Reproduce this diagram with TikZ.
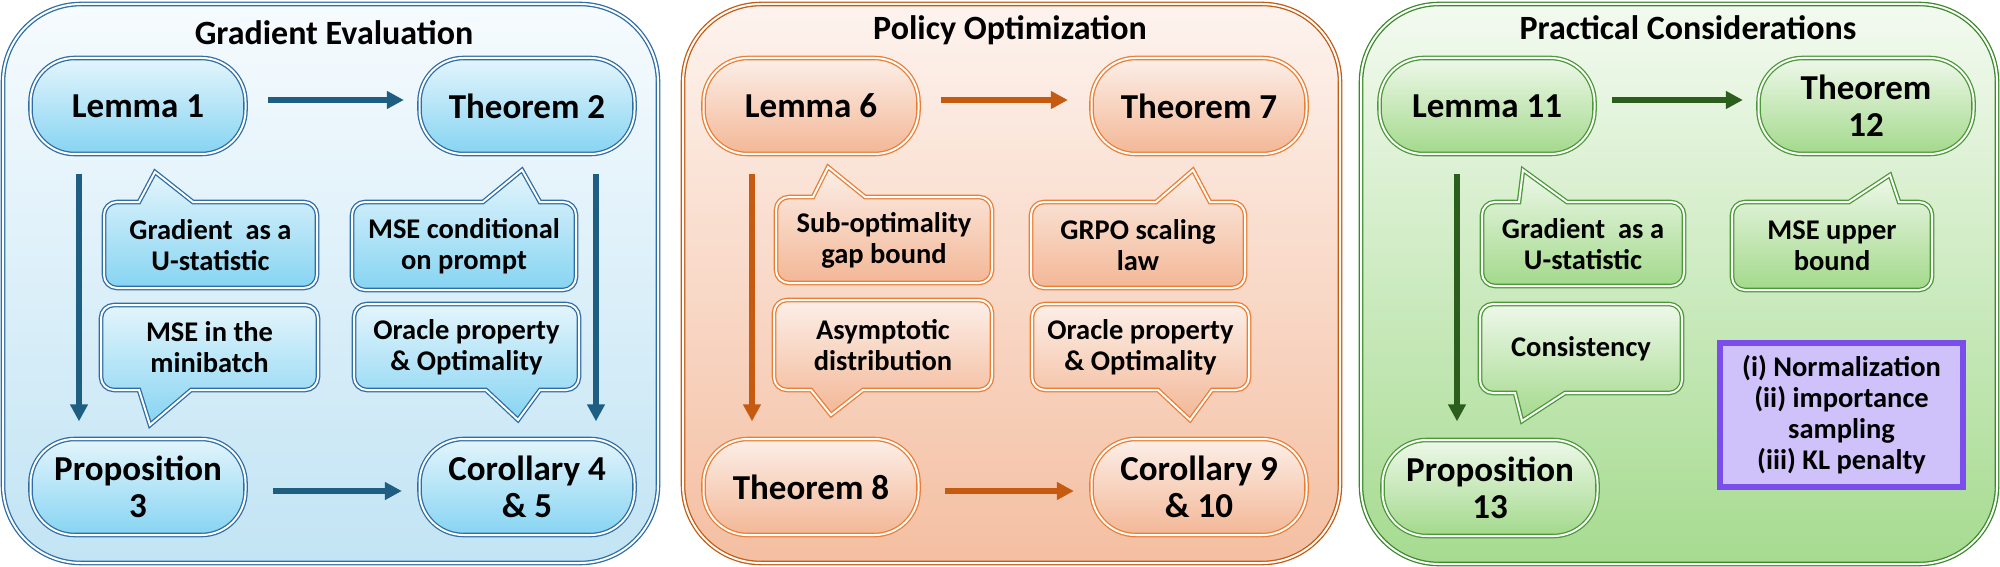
\documentclass[tikz,border=0pt]{standalone}
\usepackage{fontspec}
\setmainfont{Carlito}
\usetikzlibrary{arrows.meta}

\definecolor{bBord}{HTML}{2E6DA6}
\definecolor{bArr}{HTML}{1D5E82}
\definecolor{bPanTop}{HTML}{F6FBFE}
\definecolor{bPanBot}{HTML}{C2E4F4}
\definecolor{bPillTop}{HTML}{E4F5FC}
\definecolor{bPillBot}{HTML}{86D4F2}
\definecolor{oBord}{HTML}{C55A11}
\definecolor{oInner}{HTML}{ED7D31}
\definecolor{oPanTop}{HTML}{FDF3EE}
\definecolor{oPanBot}{HTML}{F4BFA2}
\definecolor{oPillTop}{HTML}{FCEFE8}
\definecolor{oPillBot}{HTML}{F3B796}
\definecolor{gBord}{HTML}{3A8A2A}
\definecolor{gInner}{HTML}{4A9A36}
\definecolor{gArr}{HTML}{2B5E1C}
\definecolor{gPanTop}{HTML}{F3FAF0}
\definecolor{gPanBot}{HTML}{A6DB90}
\definecolor{gPillTop}{HTML}{EEF8EA}
\definecolor{gPillBot}{HTML}{A3D98B}
\definecolor{pBord}{HTML}{7B4DEA}
\definecolor{pFill}{HTML}{CFC2FB}

\newcommand\ttlfont{\bfseries\fontsize{34}{37}\selectfont}
\newcommand\pillfont{\bfseries\fontsize{35}{37}\selectfont}
\newcommand\callfont{\bfseries\fontsize{28.5}{31}\selectfont}

% callout with pointer up: style, x1,y1,x2,y2, baseL, baseR, tipx, tipy
\newcommand\callUp[9]{%
  \draw[#1] ({#2+13},#3) -- (#6,#3) -- (#8,#9) -- (#7,#3) -- ({#4-13},#3)
    arc[start angle=270,end angle=360,radius=13] -- (#4,{#5-13})
    arc[start angle=0,end angle=90,radius=13] -- ({#2+13},#5)
    arc[start angle=90,end angle=180,radius=13] -- (#2,{#3+13})
    arc[start angle=180,end angle=270,radius=13] -- cycle;}
% callout with pointer down
\newcommand\callDn[9]{%
  \draw[#1] ({#2+13},#3) -- ({#4-13},#3)
    arc[start angle=270,end angle=360,radius=13] -- (#4,{#5-13})
    arc[start angle=0,end angle=90,radius=13] -- (#7,#5) -- (#8,#9) -- (#6,#5) -- ({#2+13},#5)
    arc[start angle=90,end angle=180,radius=13] -- (#2,{#3+13})
    arc[start angle=180,end angle=270,radius=13] -- cycle;}

\tikzset{
  x=1pt, y=-1pt,
  dbl/.style={double=white, double distance=2pt, line width=1.3pt},
  panel/.style={dbl, rounded corners=78pt},
  bpanel/.style={panel, draw=bBord, top color=bPanTop, bottom color=bPanBot},
  opanel/.style={panel, draw=oBord, top color=oPanTop, bottom color=oPanBot},
  gpanel/.style={panel, draw=gBord, top color=gPanTop, bottom color=gPanBot},
  ttl/.style={font=\ttlfont, anchor=base, inner sep=0pt},
  pill/.style={dbl, rectangle, rounded corners=44pt, minimum width=215pt, minimum height=96pt,
    align=center, font=\pillfont, text=black, inner sep=0pt},
  bpill/.style={pill, draw=bBord, top color=bPillTop, bottom color=bPillBot},
  opill/.style={pill, draw=oInner, top color=oPillTop, bottom color=oPillBot},
  gpill/.style={pill, draw=gInner, top color=gPillTop, bottom color=gPillBot},
  bcall/.style={dbl, draw=bBord, top color=bPillTop, bottom color=bPillBot},
  ocall/.style={dbl, draw=oInner, top color=oPillTop, bottom color=oPillBot},
  gcall/.style={dbl, draw=gInner, top color=gPillTop, bottom color=gPillBot},
  ctext/.style={align=center, font=\callfont, text=black, inner sep=0pt},
  arr/.style={line width=5.5pt, -{Triangle[length=17pt,width=17pt]}},
  barr/.style={arr, draw=bArr},
  oarr/.style={arr, draw=oBord},
  garr/.style={arr, draw=gArr},
  pbox/.style={draw=pBord, fill=pFill, line width=6pt, minimum width=243pt, minimum height=144pt,
    align=center, font=\callfont, text=black, inner sep=0pt},
}

\begin{document}
\begin{tikzpicture}
\useasboundingbox (0,0) rectangle (2000,567);

% panels
\draw[bpanel] (3,4) rectangle (658,563);
\draw[opanel] (683,4) rectangle (1340,563);
\draw[gpanel] (1361,4) rectangle (1997,564);

% titles
\node[ttl] (t1) at (334,45) {Gradient Evaluation};
\node[ttl] (t2) at (1010,40) {Policy Optimization};
\node[ttl] (t3) at (1688,40) {Practical Considerations};

% ---------- left panel ----------
\node[bpill] (L1) at (138,106) {Lemma 1};
\node[bpill] (T2) at (527,106) {Theorem 2};
\node[bpill] (P3) at (138,487) {Proposition\\3};
\node[bpill] (C45) at (527,487) {Corollary 4\\\& 5};

\callUp{bcall}{104}{202}{317}{288}{139}{193}{155}{172}
\node[ctext] (cGU) at (210.5,245) {Gradient~~as a\\U-statistic};
\callUp{bcall}{352}{202}{576}{290}{483}{540}{522}{170}
\node[ctext] (cMC) at (464,246) {MSE conditional\\on prompt};
\callDn{bcall}{101}{305}{318}{390}{139}{191}{150}{425}
\node[ctext] (cMM) at (209.5,347.5) {MSE in the\\minibatch};
\callDn{bcall}{354}{304}{579}{390}{486}{540}{518}{420}
\node[ctext] (cOP) at (466.5,347) {Oracle property\\\& Optimality};

\draw[barr, shorten <=22pt, shorten >=15pt] ([yshift=6pt]L1.east) -- ([yshift=6pt]T2.west);
\draw[barr, shorten <=27pt, shorten >=17pt] ([yshift=-4pt]P3.east) -- ([yshift=-4pt]C45.west);
\draw[barr, shorten <=19pt, shorten >=17pt] ([xshift=-59pt]L1.south) -- ([xshift=-59pt]P3.north);
\draw[barr, shorten <=19pt, shorten >=17pt] ([xshift=69pt]T2.south) -- ([xshift=69pt]C45.north);

% ---------- middle panel ----------
\node[opill] (L6) at (811,106) {Lemma 6};
\node[opill] (T7) at (1199,106) {Theorem 7};
\node[opill] (T8) at (811,487) {Theorem 8};
\node[opill] (C910) at (1199,487) {Corollary 9\\\& 10};

\callUp{ocall}{776}{197}{992}{283}{813}{865}{828}{167}
\node[ctext] (cSO) at (884,240) {Sub-optimality\\gap bound};
\callUp{ocall}{1031}{202}{1245}{288}{1156}{1210}{1193}{170}
\node[ctext] (cGR) at (1138,245) {GRPO scaling\\law};
\callDn{ocall}{774}{300}{992}{390}{811}{863}{831}{415}
\node[ctext] (cAD) at (883,345) {Asymptotic\\distribution};
\callDn{ocall}{1032}{304}{1249}{390}{1158}{1212}{1190}{420}
\node[ctext] (cOP2) at (1140.5,347) {Oracle property\\\& Optimality};

\draw[oarr, shorten <=22pt, shorten >=23pt] ([yshift=6pt]L6.east) -- ([yshift=6pt]T7.west);
\draw[oarr, shorten <=26pt, shorten >=17pt] ([yshift=-4pt]T8.east) -- ([yshift=-4pt]C910.west);
\draw[oarr, shorten <=19pt, shorten >=17pt] ([xshift=-59pt]L6.south) -- ([xshift=-59pt]T8.north);

% ---------- right panel ----------
\node[gpill] (L11) at (1487,106) {Lemma 11};
\node[gpill] (T12) at (1866,106) {Theorem\\12};
\node[gpill] (P13) at (1490,488) {Proposition\\13};

\callUp{gcall}{1482}{202}{1684}{286}{1519}{1567}{1523}{170}
\node[ctext] (cGU2) at (1583,244) {Gradient~~as a\\U-statistic};
\callUp{gcall}{1732}{202}{1932}{290}{1849}{1899}{1890}{175}
\node[ctext] (cMU) at (1832,246) {MSE upper\\bound};
\callDn{gcall}{1480}{304}{1682}{393}{1515}{1565}{1522}{421}
\node[ctext] (cCO) at (1581,348.5) {Consistency};

\node[pbox] (pk) at (1841.5,415) {(i) Normalization\\(ii) importance\\sampling\\(iii) KL penalty};

\draw[garr, shorten <=17pt, shorten >=15pt] ([yshift=6pt]L11.east) -- ([yshift=6pt]T12.west);
\coordinate (gv) at ([xshift=-30pt]L11.south);
\draw[garr, shorten <=19pt, shorten >=18pt] (gv) -- (gv |- P13.north);
\end{tikzpicture}
\end{document}
